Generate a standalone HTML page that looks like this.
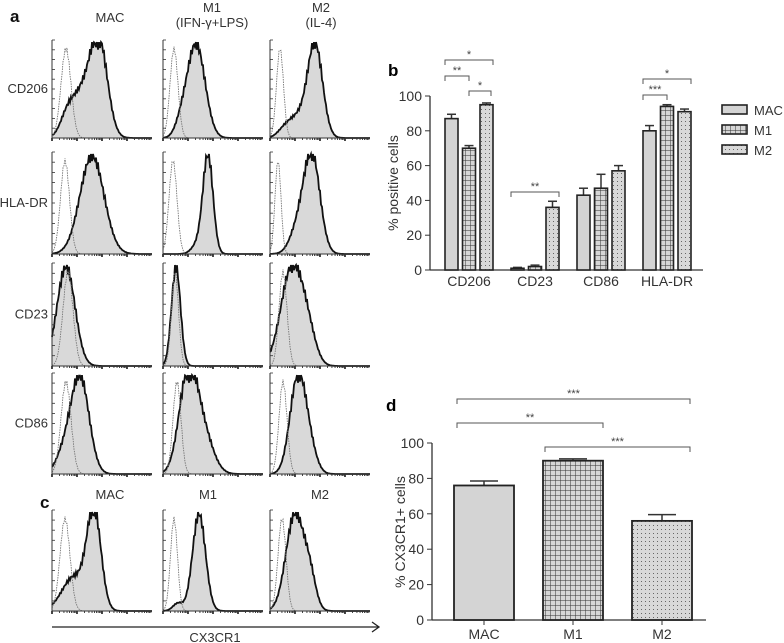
<!DOCTYPE html>
<html><head><meta charset="utf-8"><style>
body{margin:0;background:#fff}
svg{display:block;font-family:"Liberation Sans",sans-serif}
</style></head><body>
<svg id="fig" width="784" height="643" viewBox="0 0 784 643">
<defs>
<pattern id="grid" width="5" height="5" patternUnits="userSpaceOnUse"><rect width="5" height="5" fill="#d6d6d6"/><path d="M0 0H5M0 0V5" stroke="#333" stroke-width="1"/></pattern>
<pattern id="dots" width="4" height="4" patternUnits="userSpaceOnUse"><rect width="4" height="4" fill="#d8d8d8"/><rect x="1" y="1" width="1" height="1" fill="#666"/></pattern>
</defs>
<g id="panelA"></g>
<g id="panelB"></g>
<g id="panelD"></g>
</svg>
<script>
const NS="http://www.w3.org/2000/svg";
function mk(tag,attrs,parent,text){const e=document.createElementNS(NS,tag);for(const k in attrs)e.setAttribute(k,attrs[k]);if(text!==undefined)e.textContent=text;parent.appendChild(e);return e;}

// ---------- Panel B data ----------
const bCategories=["CD206","CD23","CD86","HLA-DR"];
const bSeries=["MAC","M1","M2"];
const bMAC=[87,1,43,80];
const bM1=[70,2,47,94];
const bM2=[95,36,57,91];
const bMACerr=[2.5,0.5,4,3];
const bM1err=[1.5,0.8,8,1];
const bM2err=[1,3.5,3,1.5];
const bTicks=[0,20,40,60,80,100];
// ---------- Panel D data ----------
const dCategories=["MAC","M1","M2"];
const dValues=[76,90,56];
const dErr=[2.5,1,3.5];
const dTicks=[0,20,40,60,80,100];

const fills=["#d4d4d4","url(#grid)","url(#dots)"];

// Panel B
(function(){
const g=document.getElementById('panelB');
const x0=430,xEnd=703,y0=270,yTop=96;
const yS=v=>y0-(v/100)*(y0-yTop);
const gx=i=>445+i*66, bw=13, off=[0,17.5,35];
const t=mk('text',{x:388,y:76,'font-size':17,'font-weight':'bold'},g,'b');

const ya=mk('line',{x1:x0,y1:yTop,x2:x0,y2:y0,stroke:'#333','stroke-width':1.3},g);

const xa=mk('line',{x1:x0,y1:y0,x2:xEnd,y2:y0,stroke:'#333','stroke-width':1.3},g);

bTicks.forEach(v=>{mk('line',{x1:x0-5,x2:x0,y1:yS(v),y2:yS(v),stroke:'#333'},g);
 const tl=mk('text',{x:x0-8,y:yS(v)+5,'font-size':14,'text-anchor':'end',fill:'#333'},g,v);
 });
const yl=mk('text',{x:0,y:0,'font-size':14,'text-anchor':'middle',fill:'#333',transform:'translate(398,183) rotate(-90)'},g,'% positive cells');

const vals=[bMAC,bM1,bM2],errs=[bMACerr,bM1err,bM2err];
bCategories.forEach((c,i)=>{
 vals.forEach((arr,s)=>{const x=gx(i)+off[s];const v=arr[i];
  mk('line',{x1:x+bw/2,x2:x+bw/2,y1:yS(v),y2:yS(v+errs[s][i]),stroke:'#333','stroke-width':1.5},g);
  mk('line',{x1:x+2,x2:x+bw-2,y1:yS(v+errs[s][i]),y2:yS(v+errs[s][i]),stroke:'#333','stroke-width':1.5},g);
  const r=mk('rect',{x:x,y:yS(v),width:bw,height:y0-yS(v),fill:fills[s],stroke:'#222','stroke-width':1.6},g);
  });
 const cl=mk('text',{x:gx(i)+bw/2+17.5,y:286,'font-size':14,'text-anchor':'middle',fill:'#333'},g,c);
 
});
function br(x1,x2,y,lab){mk('path',{d:`M${x1} ${y+5}V${y}H${x2}V${y+5}`,fill:'none',stroke:'#555','stroke-width':1},g);
 const s=mk('text',{x:(x1+x2)/2,y:y-2,'font-size':11,'text-anchor':'middle',fill:'#444'},g,lab);
 }
const cx=(i,s)=>gx(i)+off[s]+bw/2;
br(gx(0),gx(0)+off[2]+bw,60,'*');br(gx(0),cx(0,1),76,'**');br(cx(0,1),gx(0)+off[2]+bw-2,91,'*');
br(gx(1),gx(1)+off[2]+bw,192,'**');br(gx(3),gx(3)+off[2]+bw,79,'*');br(gx(3),cx(3,1),95,'***');
bSeries.forEach((s,k)=>{const y=105+k*20;
 const r=mk('rect',{x:722,y:y,width:25,height:9,fill:fills[k],stroke:'#222','stroke-width':1.6},g);
 
 const t=mk('text',{x:754,y:y+10,'font-size':13,fill:'#333'},g,s);
 });
})();

// Panel D
(function(){
const g=document.getElementById('panelD');
const x0=432,xEnd=706,y0=620,yTop=443;
const yS=v=>y0-(v/100)*(y0-yTop);
const bx=i=>454+i*89,bw=60;
const t=mk('text',{x:386,y:411,'font-size':17,'font-weight':'bold'},g,'d');

const ya=mk('line',{x1:x0,y1:yTop,x2:x0,y2:y0,stroke:'#333','stroke-width':1.3},g);

const xa=mk('line',{x1:x0,y1:y0,x2:xEnd,y2:y0,stroke:'#333','stroke-width':1.3},g);

dTicks.forEach(v=>{mk('line',{x1:x0-5,x2:x0,y1:yS(v),y2:yS(v),stroke:'#333'},g);
 const tl=mk('text',{x:x0-8,y:yS(v)+5,'font-size':14,'text-anchor':'end',fill:'#333'},g,v);
 });
const yl=mk('text',{x:0,y:0,'font-size':14,'text-anchor':'middle',fill:'#333',transform:'translate(405,532) rotate(-90)'},g,'% CX3CR1+ cells');

dCategories.forEach((c,i)=>{const x=bx(i),v=dValues[i],e=dErr[i];
 mk('line',{x1:x+bw/2,x2:x+bw/2,y1:yS(v),y2:yS(v+e),stroke:'#333','stroke-width':1.5},g);
 mk('line',{x1:x+bw/2-14,x2:x+bw/2+14,y1:yS(v+e),y2:yS(v+e),stroke:'#333','stroke-width':1.5},g);
 const r=mk('rect',{x:x,y:yS(v),width:bw,height:y0-yS(v),fill:fills[i],stroke:'#222','stroke-width':1.8},g);
 
 mk('line',{x1:x+bw/2,x2:x+bw/2,y1:y0,y2:y0+5,stroke:'#333'},g);
 const cl=mk('text',{x:x+bw/2,y:639,'font-size':14,'text-anchor':'middle',fill:'#333'},g,c);
 });
function br(x1,x2,y,lab){mk('path',{d:`M${x1} ${y+5}V${y}H${x2}V${y+5}`,fill:'none',stroke:'#555','stroke-width':1},g);
 const s=mk('text',{x:(x1+x2)/2,y:y-2,'font-size':11,'text-anchor':'middle',fill:'#444'},g,lab);
 }
br(457,690,399,'***');br(457,603,423,'**');br(545,690,447,'***');
})();

// Panel A / C histograms
const colX=[52,163,270];
const rowTop=[40,152,263,373,510];
const rowBase=[138,254,366,474,611];
const rowNames=["CD206","HLA-DR","CD23","CD86",""];
const histIso=[[0.14,0.05],[0.11,0.04],[0.1,0.035],[0.13,0.045],[0.1,0.04],[0.08,0.03],[0.16,0.05],[0.12,0.035],[0.13,0.04],[0.14,0.05],[0.14,0.04],[0.13,0.04],[0.13,0.05],[0.11,0.035],[0.12,0.04]];
const histPos=[
 [[0.47,0.085,1],[0.3,0.1,0.45],[0.15,0.07,0.2]],[[0.33,0.09,1],[0.18,0.06,0.12]],[[0.45,0.075,1],[0.28,0.08,0.2],[0.15,0.07,0.1]],
 [[0.4,0.12,1]],[[0.45,0.05,1],[0.35,0.06,0.1]],[[0.42,0.08,1],[0.28,0.08,0.25]],
 [[0.14,0.09,1]],[[0.13,0.045,1]],[[0.22,0.11,1],[0.38,0.08,0.25]],
 [[0.28,0.09,1],[0.12,0.08,0.2]],[[0.25,0.09,1],[0.4,0.1,0.4]],[[0.28,0.08,1],[0.4,0.07,0.2]],
 [[0.42,0.07,1],[0.22,0.12,0.35]],[[0.36,0.065,1],[0.15,0.05,0.08]],[[0.25,0.09,1],[0.4,0.06,0.3]]];
(function(){
const g=document.getElementById('panelA');
const W=100;
const txt=(x,y,s,o,name)=>{const t=mk('text',Object.assign({x:x,y:y,'font-size':13,'text-anchor':'middle',fill:'#333'},o||{}),g,s);};
txt(10,22,'a',{'font-size':17,'font-weight':'bold','text-anchor':'start',fill:'#111'},'panel-a-label');
txt(110,22,'MAC',{},'col-title-mac');txt(212,12,'M1',{},'col-title-m1');txt(212,27,'(IFN-γ+LPS)',{},'col-title-m1-sub');
txt(321,12,'M2',{},'col-title-m2');txt(321,27,'(IL-4)',{},'col-title-m2-sub');
txt(40,508,'c',{'font-size':17,'font-weight':'bold','text-anchor':'start',fill:'#111'},'panel-c-label');
txt(110,499,'MAC',{},'c-col-mac');txt(208,499,'M1',{},'c-col-m1');txt(320,499,'M2',{},'c-col-m2');
rowNames.forEach((n,r)=>{if(n)txt(48,(rowTop[r]+rowBase[r])/2+4,n,{'text-anchor':'end'},'row-label-'+n.toLowerCase());
 colX.forEach((x0,c)=>{const idx=r*3+c,top=rowTop[r],base=rowBase[r],H=base-top-4;
  const gauss=(x,m,s)=>Math.exp(-0.5*((x-m)/s)**2);
  let pts=[],ipts=[];
  for(let i=0;i<=100;i++){const f=i/100;let v=0;histPos[idx].forEach(p=>{v+=p[2]*gauss(f,p[0],p[1]);});
   v=Math.min(v,1)*(1+0.06*Math.sin(i*2.7+idx));pts.push([x0+f*W,base-Math.min(v,1.02)*H]);
   ipts.push([x0+f*W,base-gauss(f,histIso[idx][0],histIso[idx][1])*H*(0.95+0.05*Math.sin(i*3.1))]);}
  const d='M'+pts.map(p=>p[0].toFixed(1)+' '+p[1].toFixed(1)).join('L');
  const f=mk('path',{d:d+`L${x0+W} ${base}L${x0} ${base}Z`,fill:'#d9d9d9',stroke:'none'},g);
  
  mk('path',{d:d,fill:'none',stroke:'#111','stroke-width':1.8},g);
  const iso=mk('path',{d:'M'+ipts.map(p=>p[0].toFixed(1)+' '+p[1].toFixed(1)).join('L'),fill:'none',stroke:'#777','stroke-width':0.9,'stroke-dasharray':'1.5 1'},g);
  
  mk('path',{d:`M${x0} ${top}V${base}H${x0+W}`,fill:'none',stroke:'#333','stroke-width':1},g);
  for(let k=0;k<10;k++)mk('line',{x1:x0,x2:x0+3,y1:top+k*(base-top)/10,y2:top+k*(base-top)/10,stroke:'#333','stroke-width':0.8},g);
  for(let k=0;k<4;k++)for(let j=1;j<=9;j++){const tx=x0+(k+Math.log10(j))*W/4;mk('line',{x1:tx,x2:tx,y1:base,y2:base+(j==1?3:2),stroke:'#333','stroke-width':j==1?1.8:0.9},g);}
 });});
const ar=mk('path',{d:'M52 627H378M372 622L379 627L372 632',fill:'none',stroke:'#222','stroke-width':1.3},g);

txt(215,642,'CX3CR1',{'font-size':13},'x-axis-title-cx3cr1');
})();
</script>
</body></html>
